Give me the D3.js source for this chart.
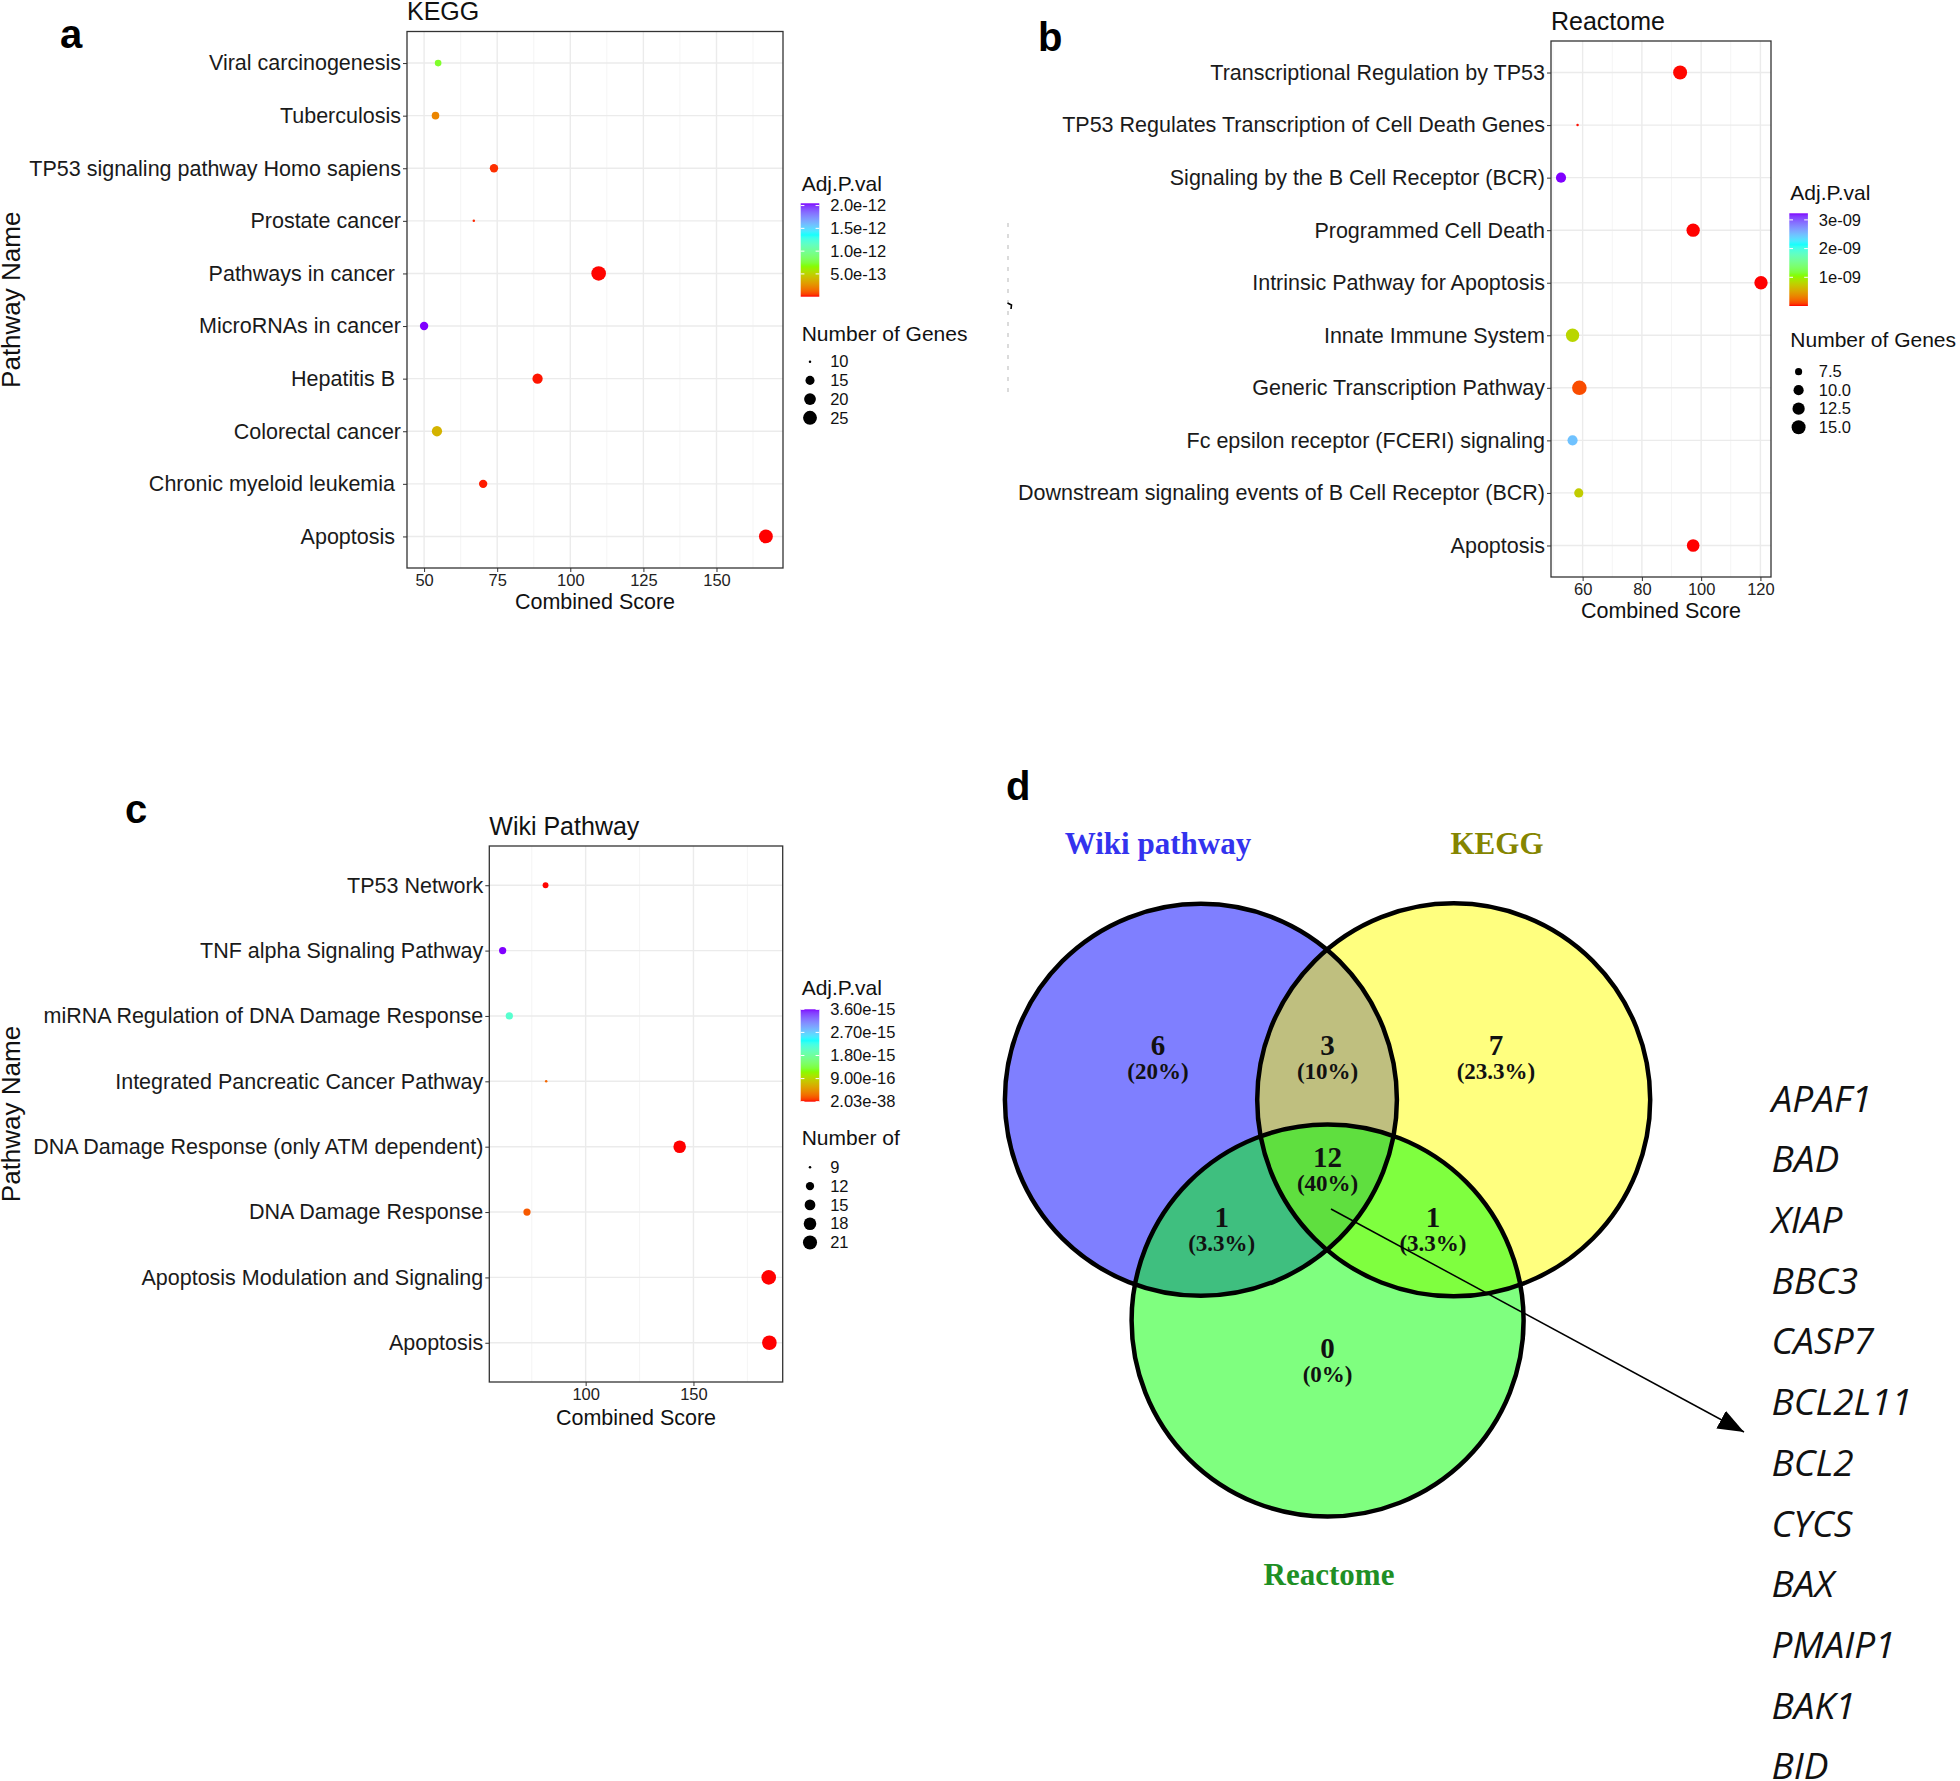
<!DOCTYPE html>
<html>
<head>
<meta charset="utf-8">
<script src="https://cdn.jsdelivr.net/npm/d3@7"></script>
<style>
  body { margin: 0; background: #fff; }
  svg { display: block; }
</style>
</head>
<body>
<div id="fig"></div>
<script>
// ---------- data: KEGG ----------
const keggNames = ["Viral carcinogenesis", "Tuberculosis", "TP53 signaling pathway Homo sapiens", "Prostate cancer",
    "Pathways in cancer ", "MicroRNAs in cancer", "Hepatitis B ", "Colorectal cancer", "Chronic myeloid leukemia ", "Apoptosis "];
const keggScore = [54.8, 53.9, 73.9, 67.0, 109.7, 50.0, 88.8, 54.4, 70.2, 166.9];
const keggGenes = [12, 13, 14, 10, 27, 14, 17, 17, 14, 25];
const keggPadj = [7.2e-13, 2.2e-13, 3.1e-14, 2.2e-14, 1.5e-15, 2.05e-12, 8.5e-15, 3.8e-13, 1.2e-14, 4.0e-17];
const keggScoreTicks = [50, 75, 100, 125, 150];
const keggPadjBreaks = [5e-13, 1e-12, 1.5e-12, 2e-12];
const keggPadjLabels = ["5.0e-13", "1.0e-12", "1.5e-12", "2.0e-12"];
const keggGeneBreaks = [10, 15, 20, 25];

// ---------- data: Reactome ----------
const reactomeNames = ["Transcriptional Regulation by TP53", "TP53 Regulates Transcription of Cell Death Genes",
    "Signaling by the B Cell Receptor (BCR)", "Programmed Cell Death", "Intrinsic Pathway for Apoptosis",
    "Innate Immune System", "Generic Transcription Pathway", "Fc epsilon receptor (FCERI) signaling",
    "Downstream signaling events of B Cell Receptor (BCR)", "Apoptosis"];
const reactomeScore = [92.9, 58.3, 52.7, 97.3, 120.2, 56.6, 58.9, 56.6, 58.7, 97.3];
const reactomeGenes = [15, 6, 10, 14, 14, 14, 16, 10, 9, 13];
const reactomePadj = [4.1e-12, 9.0e-12, 3.23e-9, 1.1e-12, 6.0e-13, 0.81e-9, 0.12e-9, 2.48e-9, 0.75e-9, 7.4e-13];
const reactomeScoreTicks = [60, 80, 100, 120];
const reactomePadjBreaks = [1e-9, 2e-9, 3e-9];
const reactomePadjLabels = ["1e-09", "2e-09", "3e-09"];
const reactomeGeneBreaks = [7.5, 10, 12.5, 15];

// ---------- data: Wiki Pathway ----------
const wikiNames = ["TP53 Network", "TNF alpha Signaling Pathway", "miRNA Regulation of DNA Damage Response",
    "Integrated Pancreatic Cancer Pathway", "DNA Damage Response (only ATM dependent)", "DNA Damage Response",
    "Apoptosis Modulation and Signaling", "Apoptosis"];
const wikiScore = [81.4, 61.5, 64.6, 81.7, 143.6, 72.8, 184.9, 185.2];
const wikiGenes = [10, 11, 11, 9, 18, 11, 22, 22];
const wikiPadj = [2.5e-18, 3.6e-15, 2.1e-15, 2.4e-16, 1.2e-20, 1.8e-16, 5.0e-30, 2.03e-38];
const wikiScoreTicks = [100, 150];
const wikiPadjBreaks = [2.03e-38, 9.0e-16, 1.8e-15, 2.7e-15, 3.6e-15];
const wikiPadjLabels = ["2.03e-38", "9.00e-16", "1.80e-15", "2.70e-15", "3.60e-15"];
const wikiGeneBreaks = [9, 12, 15, 18, 21];

// ---------- data: Venn ----------
const vennSets = ["Wiki pathway", "KEGG", "Reactome"];
const vennRegions = ["Wiki", "Wiki&KEGG", "KEGG", "all", "Wiki&Reactome", "KEGG&Reactome", "Reactome"];
const vennCounts = [6, 3, 7, 12, 1, 1, 0];
const sharedGenes = ["APAF1", "BAD", "XIAP", "BBC3", "CASP7", "BCL2L11", "BCL2", "CYCS", "BAX", "PMAIP1", "BAK1", "BID"];

const rainbow4 = ["#FF0000", "#80FF00", "#00FFFF", "#8000FF"];
const SANS = "'Liberation Sans', Arial, sans-serif";
const SERIF = "'Liberation Serif', 'Times New Roman', serif";

const svg = d3.select("#fig").append("svg")
    .attr("width", 1960).attr("height", 1781)
    .style("font-family", SANS);

const defs = svg.append("defs");

function drawDotPanel(p) {
    const g = svg.append("g");

    // ggplot style 5% expansion of the continuous axis
    const ext = d3.extent(p.score);
    const pad = (ext[1] - ext[0]) * 0.05;
    const x = d3.scaleLinear().domain([ext[0] - pad, ext[1] + pad]).range([p.left, p.right]);
    const y = d3.scalePoint().domain(p.names).range([p.top, p.bottom]).padding(0.6);

    // colour: rainbow(4) interpolated in Lab over the p-value range
    const pe = d3.extent(p.padj);
    const color = d3.scaleLinear()
        .domain(d3.range(4).map(i => pe[0] + (pe[1] - pe[0]) * i / 3))
        .range(rainbow4)
        .interpolate(d3.interpolateLab);

    // size: area scaling like scale_size
    const gt = d3.scaleLinear().domain(d3.extent(p.genes)).range([0, 1]).clamp(true);
    const dia = d3.scaleLinear().domain([0, 1]).range([2.5, 14.6]);
    const radius = v => dia(Math.sqrt(gt(v))) / 2;

    // minor breaks
    const step = p.ticks[1] - p.ticks[0];
    const minors = [];
    for (let v = p.ticks[0] - step / 2; v <= x.domain()[1]; v += step) {
        if (v >= x.domain()[0]) minors.push(v);
    }

    // grid
    g.selectAll(".minor").data(minors).join("line")
        .attr("x1", d => x(d)).attr("x2", d => x(d))
        .attr("y1", p.top).attr("y2", p.bottom)
        .attr("stroke", "#f3f3f3").attr("stroke-width", 0.8);
    g.selectAll(".majorx").data(p.ticks).join("line")
        .attr("x1", d => x(d)).attr("x2", d => x(d))
        .attr("y1", p.top).attr("y2", p.bottom)
        .attr("stroke", "#ebebeb").attr("stroke-width", 1.4);
    g.selectAll(".majory").data(p.names).join("line")
        .attr("x1", p.left).attr("x2", p.right)
        .attr("y1", d => y(d)).attr("y2", d => y(d))
        .attr("stroke", "#ebebeb").attr("stroke-width", 1.4);

    // points
    g.selectAll(".pt").data(p.names).join("circle")
        .attr("cx", (d, i) => x(p.score[i]))
        .attr("cy", d => y(d))
        .attr("r", (d, i) => radius(p.genes[i]))
        .attr("fill", (d, i) => color(p.padj[i]));

    // border
    g.append("rect")
        .attr("x", p.left).attr("y", p.top)
        .attr("width", p.right - p.left).attr("height", p.bottom - p.top)
        .attr("fill", "none").attr("stroke", "#333").attr("stroke-width", 1.3);

    // axes
    const xa = g.append("g").attr("transform", `translate(0,${p.bottom})`)
        .call(d3.axisBottom(x).tickValues(p.ticks).tickSize(4).tickPadding(2.5));
    xa.select(".domain").remove();
    xa.selectAll("line").attr("stroke", "#333");
    xa.selectAll("text").attr("fill", "#222").style("font-size", "16.5px").style("font-family", SANS);

    const ya = g.append("g").attr("transform", `translate(${p.left},0)`)
        .call(d3.axisLeft(y).tickSize(4).tickPadding(2));
    ya.select(".domain").remove();
    ya.selectAll("line").attr("stroke", "#333");
    ya.selectAll("text").attr("fill", "#1a1a1a").style("font-size", "21.5px")
        .style("font-family", SANS).style("white-space", "pre");

    // titles
    g.append("text").attr("x", p.left).attr("y", p.titleY)
        .style("font-size", "25px").attr("fill", "#111").text(p.title);
    g.append("text").attr("x", (p.left + p.right) / 2).attr("y", p.bottom + p.xTitleDy)
        .attr("text-anchor", "middle").style("font-size", "21.5px").attr("fill", "#111")
        .text("Combined Score");
    if (p.yTitle) {
        g.append("text")
            .attr("transform", `translate(20,${(p.top + p.bottom) / 2}) rotate(-90)`)
            .attr("text-anchor", "middle").style("font-size", "26px").attr("fill", "#111")
            .text("Pathway Name");
    }
    g.append("text").attr("x", p.letterX).attr("y", p.letterY)
        .style("font-size", "40px").style("font-weight", "bold").attr("fill", "#000")
        .text(p.letter);

    // colour legend
    const lx = p.legendX;
    g.append("text").attr("x", lx + 1).attr("y", p.legTitleY)
        .style("font-size", "21px").attr("fill", "#111").text("Adj.P.val");
    const gid = "grad-" + p.letter;
    const grad = defs.append("linearGradient").attr("id", gid)
        .attr("x1", 0).attr("y1", 1).attr("x2", 0).attr("y2", 0);
    grad.selectAll("stop").data(d3.range(0, 1.0001, 0.02)).join("stop")
        .attr("offset", d => d)
        .attr("stop-color", d => color(pe[0] + d * (pe[1] - pe[0])));
    const barW = 18.6;
    g.append("rect").attr("x", lx).attr("y", p.barTop)
        .attr("width", barW).attr("height", p.barBottom - p.barTop)
        .attr("fill", `url(#${gid})`);
    const ly = d3.scaleLinear().domain(pe).range([p.barBottom, p.barTop]);
    p.padjBreaks.forEach((b, i) => {
        const yy = ly(b);
        g.append("line").attr("x1", lx).attr("x2", lx + 3.7).attr("y1", yy).attr("y2", yy)
            .attr("stroke", "#fff").attr("stroke-width", 1);
        g.append("line").attr("x1", lx + barW - 3.7).attr("x2", lx + barW).attr("y1", yy).attr("y2", yy)
            .attr("stroke", "#fff").attr("stroke-width", 1);
        g.append("text").attr("x", lx + 29.5).attr("y", yy).attr("dy", "0.35em")
            .style("font-size", "16.5px").attr("fill", "#111").text(p.padjLabels[i]);
    });

    // size legend
    g.append("text").attr("x", lx + 1).attr("y", p.sizeTitleY)
        .style("font-size", "21px").attr("fill", "#111").text(p.sizeTitle);
    const fmtKey = p.letter === "b" ? d3.format(".1f") : (v => v);
    p.geneBreaks.forEach((b, i) => {
        const yy = p.keyY0 + i * p.keyStep;
        g.append("circle").attr("cx", lx + 9.3).attr("cy", yy).attr("r", radius(b)).attr("fill", "#000");
        g.append("text").attr("x", lx + 29.5).attr("y", yy).attr("dy", "0.35em")
            .style("font-size", "16.5px").attr("fill", "#111").text(fmtKey(b));
    });
}

drawDotPanel({
    letter: "a", names: keggNames, score: keggScore, genes: keggGenes, padj: keggPadj,
    ticks: keggScoreTicks, padjBreaks: keggPadjBreaks, padjLabels: keggPadjLabels, geneBreaks: keggGeneBreaks,
    left: 407, right: 783, top: 31.5, bottom: 568, title: "KEGG", titleY: 20, xTitleDy: 41,
    letterX: 60, letterY: 48, yTitle: true,
    legendX: 800.7, legTitleY: 191, barTop: 203.3, barBottom: 296.7,
    sizeTitle: "Number of Genes", sizeTitleY: 341, keyY0: 361.7, keyStep: 18.7
});

drawDotPanel({
    letter: "b", names: reactomeNames, score: reactomeScore, genes: reactomeGenes, padj: reactomePadj,
    ticks: reactomeScoreTicks, padjBreaks: reactomePadjBreaks, padjLabels: reactomePadjLabels, geneBreaks: reactomeGeneBreaks,
    left: 1551, right: 1771, top: 41, bottom: 577, title: "Reactome", titleY: 30, xTitleDy: 41,
    letterX: 1038, letterY: 51, yTitle: false,
    legendX: 1789.3, legTitleY: 200, barTop: 213.3, barBottom: 306,
    sizeTitle: "Number of Genes", sizeTitleY: 347, keyY0: 371.7, keyStep: 18.5
});

drawDotPanel({
    letter: "c", names: wikiNames, score: wikiScore, genes: wikiGenes, padj: wikiPadj,
    ticks: wikiScoreTicks, padjBreaks: wikiPadjBreaks, padjLabels: wikiPadjLabels, geneBreaks: wikiGeneBreaks,
    left: 489.3, right: 782.7, top: 846, bottom: 1382, title: "Wiki Pathway", titleY: 835, xTitleDy: 43,
    letterX: 125, letterY: 823, yTitle: true,
    legendX: 800.7, legTitleY: 995, barTop: 1009.3, barBottom: 1101.7,
    sizeTitle: "Number of", sizeTitleY: 1145, keyY0: 1167.3, keyStep: 18.8
});

// stray dashed mark between panels a and b
svg.append("line").attr("x1", 1008).attr("x2", 1008).attr("y1", 223).attr("y2", 397)
    .attr("stroke", "#c4c4c4").attr("stroke-width", 1.2).attr("stroke-dasharray", "4,7");
svg.append("path").attr("d", "M1007.5,303 L1011.5,305 L1011,309")
    .attr("fill", "none").attr("stroke", "#000").attr("stroke-width", 1.6);

// ---------- panel d: Venn ----------
const vd = svg.append("g");
vd.append("text").attr("x", 1006).attr("y", 800)
    .style("font-size", "40px").style("font-weight", "bold").text("d");

const circles = [
    { cx: 1200.9, cy: 1099.8, r: 196, fill: "#0000ff", label: "#3333ee", lx: 1158, ly: 843 },
    { cx: 1453.7, cy: 1099.8, r: 196.5, fill: "#ffff00", label: "#858500", lx: 1497, ly: 843 },
    { cx: 1327.6, cy: 1320.5, r: 196, fill: "#00ff00", label: "#1f8f25", lx: 1329, ly: 1574 }
];
vd.selectAll(".vfill").data(circles).join("circle")
    .attr("cx", d => d.cx).attr("cy", d => d.cy).attr("r", d => d.r)
    .attr("fill", d => d.fill).attr("fill-opacity", 0.5);
vd.selectAll(".vline").data(circles).join("circle")
    .attr("cx", d => d.cx).attr("cy", d => d.cy).attr("r", d => d.r)
    .attr("fill", "none").attr("stroke", "#000").attr("stroke-width", 4.5);
vd.selectAll(".vlab").data(vennSets).join("text")
    .attr("x", (d, i) => circles[i].lx).attr("y", (d, i) => circles[i].ly)
    .attr("dy", "0.35em").attr("text-anchor", "middle")
    .style("font-family", SERIF).style("font-weight", "bold").style("font-size", "31px")
    .attr("fill", (d, i) => circles[i].label)
    .text(d => d);

const regionPos = [[1158, 1044.5], [1327.6, 1044.5], [1496, 1044.5], [1327.6, 1157],
    [1221.7, 1217], [1433, 1217], [1327.6, 1348]];
const total = d3.sum(vennCounts);
const pct = c => d3.format(".1f")(c / total * 100).replace(/\.0$/, "");
vennRegions.forEach((r, i) => {
    const [px, py] = regionPos[i];
    vd.append("text").attr("x", px).attr("y", py).attr("dy", "0.35em").attr("text-anchor", "middle")
        .style("font-family", SERIF).style("font-weight", "bold").style("font-size", "29px")
        .attr("fill", "#111").text(vennCounts[i]);
    vd.append("text").attr("x", px).attr("y", py + 26).attr("dy", "0.35em").attr("text-anchor", "middle")
        .style("font-family", SERIF).style("font-weight", "bold").style("font-size", "23px")
        .attr("fill", "#111").text(`(${pct(vennCounts[i])}%)`);
});

// arrow to the shared gene list
defs.append("marker").attr("id", "arrowhead")
    .attr("markerUnits", "userSpaceOnUse")
    .attr("markerWidth", 30).attr("markerHeight", 24)
    .attr("refX", 26).attr("refY", 10).attr("orient", "auto")
    .append("path").attr("d", "M0,0 L26,10 L0,20 Z").attr("fill", "#000");
vd.append("line").attr("x1", 1331).attr("y1", 1209).attr("x2", 1744).attr("y2", 1432)
    .attr("stroke", "#000").attr("stroke-width", 1.5).attr("marker-end", "url(#arrowhead)");

vd.selectAll(".gene").data(sharedGenes).join("text")
    .attr("x", 1771.5)
    .attr("y", (d, i) => 1111.6 + i * 60.7)
    .style("font-family", "'Open Sans', 'Noto Sans', sans-serif")
    .style("font-style", "italic").style("font-size", "37px").attr("fill", "#111")
    .text(d => d);
</script>
</body>
</html>
